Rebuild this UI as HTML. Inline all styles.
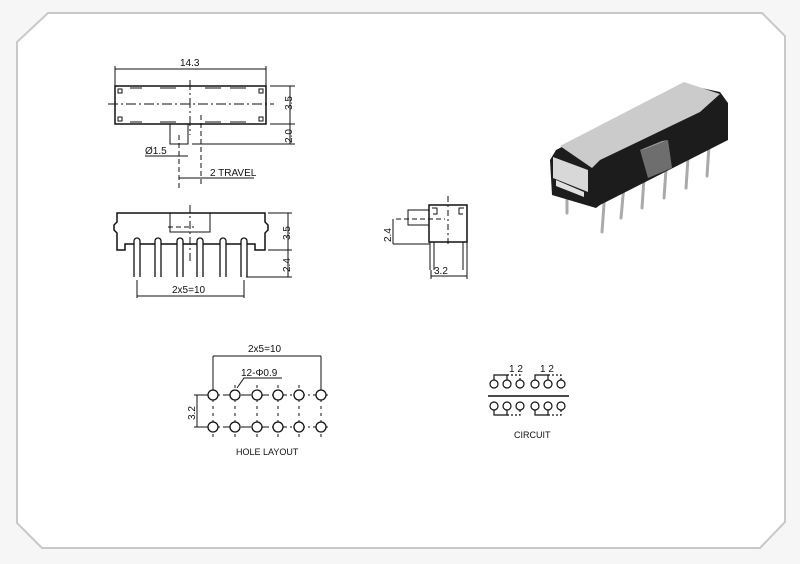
<!DOCTYPE html>
<html><head><meta charset="utf-8"><style>
html,body{margin:0;padding:0;background:#f7f7f7;}
svg{display:block}
text{font-family:"Liberation Sans",sans-serif;fill:#111;}
</style></head><body>
<svg width="800" height="564" viewBox="0 0 800 564" xmlns="http://www.w3.org/2000/svg">
<rect x="0" y="0" width="800" height="564" fill="#f6f6f6"/>
<polygon points="48,13 762,13 785,36 785,522 760,548 42,548 17,523 17,42" fill="#fff" stroke="#c8c8c8" stroke-width="2"/>
<g stroke="#111" stroke-width="1" fill="none">
<!-- TOP VIEW -->
<rect x="115" y="86" width="151" height="38" stroke-width="1.5"/>
<path d="M115,69 H266 M115,66 V86 M266,66 V86"/>
<path d="M118,89 h4 v4 h-4z M259,89 h4 v4 h-4z M118,117 h4 v4 h-4z M259,117 h4 v4 h-4z M130,88 h12 M160,88 h16 M205,88 h16 M230,88 h16 M130,122 h12 M160,122 h16 M205,122 h16 M230,122 h16"/>
<path d="M108,104 H274" stroke-dasharray="10,3,2,3"/>
<path d="M190,80 V135" stroke-dasharray="10,3,2,3"/>
<rect x="170" y="124" width="18" height="20"/>
<path d="M179,135 V190 M201,115 V185" stroke-dasharray="5,3"/>
<path d="M179,178 H201 M201,178 H254 M145,156 H188"/>
<path d="M270,86 H295 M270,124 H295 M192,144 H295 M290,86 V144"/>
<!-- FRONT VIEW -->
<path d="M117,213 H265 V222 l3,3 v5 l-3,3 V250 H255 V244 H125 V250 H117 V233 l-3,-3 v-5 l3,-3 Z" stroke-width="1.5" fill="#fff"/>
<rect x="170" y="213" width="40" height="19"/>
<path d="M190,205 V262" stroke-dasharray="8,3,2,3"/>
<path d="M168,227 H194" stroke-dasharray="5,3"/>
<g stroke-width="1.3" fill="#fff">
<path d="M134,277 V241 a3,3 0 0 1 6,0 V277"/>
<path d="M155,277 V241 a3,3 0 0 1 6,0 V277"/>
<path d="M177,277 V241 a3,3 0 0 1 6,0 V277"/>
<path d="M197,277 V241 a3,3 0 0 1 6,0 V277"/>
<path d="M220,277 V241 a3,3 0 0 1 6,0 V277"/>
<path d="M241,277 V241 a3,3 0 0 1 6,0 V277"/>
</g>
<path d="M268,213 H292 M268,250 H292 M246,277 H292 M288,213 V277"/>
<path d="M137,280 V298 M244,280 V298 M137,296 H244"/>
<!-- SIDE VIEW -->
<rect x="429" y="205" width="38" height="37" stroke-width="1.5"/>
<rect x="408" y="210" width="21" height="15"/>
<path d="M432,208 h5 v6 h-4 M464,208 h-5 v6 h4"/>
<path d="M448,196 V245" stroke-dasharray="6,3,2,3"/>
<path d="M396,219 H445" stroke-dasharray="5,3"/>
<path d="M393,219 V244 M393,244 H430"/>
<path d="M430,242 V270 M434,242 V270 M463,242 V270 M467,242 V270"/>
<path d="M431,270 V279 M467,270 V279 M431,276 H467"/>
<!-- HOLE LAYOUT -->
<path d="M213,356 H321 M213,356 V390 M321,356 V390"/>
<path d="M237,388 L244,378 H282"/>
<path d="M197,395 V427 M194,395 H208 M194,427 H208"/>
<path d="M205,395 H330 M205,427 H330" stroke-dasharray="10,3,2,3"/>
<g stroke-dasharray="3,4"><path d="M213,385 V437 M235,385 V437 M257,385 V437 M278,385 V437 M299,385 V437 M321,385 V437"/></g>
<g stroke-width="1.3" fill="#fff">
<circle cx="213" cy="395" r="5"/><circle cx="235" cy="395" r="5"/><circle cx="257" cy="395" r="5"/><circle cx="278" cy="395" r="5"/><circle cx="299" cy="395" r="5"/><circle cx="321" cy="395" r="5"/>
<circle cx="213" cy="427" r="5"/><circle cx="235" cy="427" r="5"/><circle cx="257" cy="427" r="5"/><circle cx="278" cy="427" r="5"/><circle cx="299" cy="427" r="5"/><circle cx="321" cy="427" r="5"/>
</g>
<!-- CIRCUIT -->
<g stroke-width="1.2">
<circle cx="494" cy="384" r="4"/><circle cx="507" cy="384" r="4"/><circle cx="520" cy="384" r="4"/>
<circle cx="535" cy="384" r="4"/><circle cx="548" cy="384" r="4"/><circle cx="561" cy="384" r="4"/>
<circle cx="494" cy="406" r="4"/><circle cx="507" cy="406" r="4"/><circle cx="520" cy="406" r="4"/>
<circle cx="535" cy="406" r="4"/><circle cx="548" cy="406" r="4"/><circle cx="561" cy="406" r="4"/>
<path d="M494,380 V375 H507 V380 M535,380 V375 H548 V380 M494,410 V415 H507 V410 M535,410 V415 H548 V410"/>
<path d="M507,375 H520 V380 M548,375 H561 V380 M507,415 H520 V410 M548,415 H561 V410" stroke-dasharray="2,2"/>
<path d="M488,396 H569" stroke-width="1.5"/>
</g>
</g>
<g font-size="10">
<text x="180" y="66">14.3</text>
<text x="145" y="154">Ø1.5</text>
<text x="210" y="176">2 TRAVEL</text>
<text x="172" y="293">2x5=10</text>
<text x="434" y="274">3.2</text>
<text x="248" y="352">2x5=10</text>
<text x="241" y="376">12-Φ0.9</text>
<text x="236" y="455" font-size="9">HOLE LAYOUT</text>
<text x="509" y="372">1 2</text>
<text x="540" y="372">1 2</text>
<text x="514" y="438" font-size="9">CIRCUIT</text>
<text transform="translate(292,110) rotate(-90)">3.5</text>
<text transform="translate(292,143) rotate(-90)">2.0</text>
<text transform="translate(290,240) rotate(-90)">3.5</text>
<text transform="translate(290,272) rotate(-90)">2.4</text>
<text transform="translate(391,242) rotate(-90)">2.4</text>
<text transform="translate(195,420) rotate(-90)">3.2</text>
</g>
<!-- 3D -->
<g>
<g stroke="#aaa" stroke-width="3" stroke-linecap="round">
<line x1="567" y1="200" x2="567" y2="213"/><line x1="605" y1="190" x2="602" y2="232"/>
<line x1="624" y1="185" x2="621" y2="218"/><line x1="644" y1="178" x2="642" y2="208"/>
<line x1="666" y1="170" x2="664" y2="198"/><line x1="688" y1="158" x2="686" y2="188"/>
<line x1="709" y1="146" x2="707" y2="176"/>
</g>
<polygon points="550,160 556,150 683,84 720,92 728,103 728,140 600,205 596,208 552,195" fill="#1c1c1c"/>
<polygon points="560,146 684,82 720,94 700,112 600,160 592,168" fill="#cbcbcb"/>
<polygon points="553,157 588,170 588,192 553,178" fill="#d8d8d8"/>
<polygon points="556,180 584,192 584,197 556,186" fill="#e0e0e0"/>
<polygon points="640,150 668,140 672,168 648,178" fill="#6e6e6e"/>
<polygon points="640,150 662,141 668,140 645,149" fill="#999"/>
</g>
</svg>
</body></html>
